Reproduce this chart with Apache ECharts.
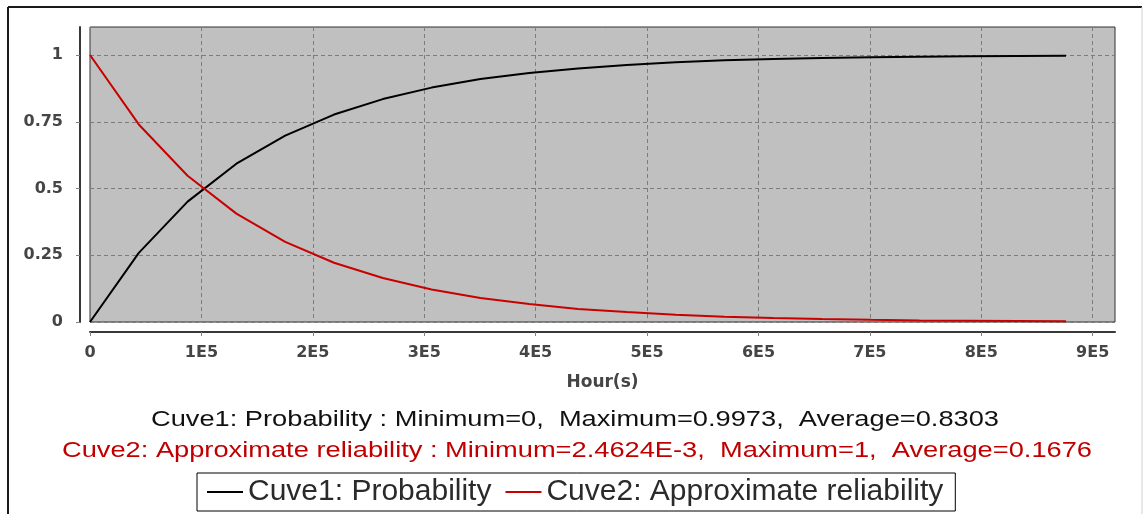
<!DOCTYPE html>
<html>
<head>
<meta charset="utf-8">
<title>Cuve1 / Cuve2</title>
<script src="https://cdn.jsdelivr.net/npm/echarts@6/dist/echarts.min.js"></script>
<style>
  html, body { margin: 0; padding: 0; background: #fff; }
  #chart { width: 1143px; height: 514px; }
</style>
</head>
<body>
<div id="chart"></div>
<script>
// Sample times (hours), one every 43 800 h (5 years) up to 100 years
const hours = [0, 43800, 87600, 131400, 175200, 219000, 262800, 306600, 350400, 394200,
  438000, 481800, 525600, 569400, 613200, 657000, 700800, 744600, 788400, 832200, 876000];

// Cuve1: Probability
const probability = [0, 0.259, 0.451, 0.593, 0.698, 0.777, 0.835, 0.878, 0.910, 0.933,
  0.950, 0.963, 0.973, 0.980, 0.985, 0.989, 0.992, 0.994, 0.9956, 0.9967, 0.9973];

// Cuve2: Approximate reliability
const reliability = [1, 0.740, 0.548, 0.406, 0.300, 0.222, 0.165, 0.122, 0.090, 0.067,
  0.049, 0.037, 0.027, 0.020, 0.015, 0.011, 0.0082, 0.0060, 0.0045, 0.0033, 0.0024624];

const seriesNames = ['Cuve1: Probability', 'Cuve2: Approximate reliability'];
const xTicks = [0, 100000, 200000, 300000, 400000, 500000, 600000, 700000, 800000, 900000];
const yTicks = [0, 0.25, 0.5, 0.75, 1];
const xAxisName = 'Hour(s)';
const summaryLines = [
  'Cuve1: Probability : Minimum=0,  Maximum=0.9973,  Average=0.8303',
  'Cuve2: Approximate reliability : Minimum=2.4624E-3,  Maximum=1,  Average=0.1676'
];

const RED = '#c80000';
const TEXT_FONT = '22px "Liberation Sans", Arial, sans-serif';

// Horizontal scale needed so that a text line spans a given width
const measureCtx = document.createElement('canvas').getContext('2d');
function fitScale(text, font, width) {
  measureCtx.font = font;
  return width / measureCtx.measureText(text).width;
}

function summaryText(text, cx, cy, width, color) {
  return {
    type: 'text',
    x: cx,
    y: cy,
    scaleX: fitScale(text, TEXT_FONT, width),
    silent: true,
    style: {
      text: text,
      font: TEXT_FONT,
      fill: color,
      align: 'center',
      verticalAlign: 'middle',
      textAlign: 'center',
      textVerticalAlign: 'middle'
    }
  };
}

const chart = echarts.init(document.getElementById('chart'), null, { renderer: 'canvas' });

const axisLabelStyle = {
  color: '#454545',
  fontFamily: '"DejaVu Sans", sans-serif',
  fontWeight: 'bold',
  fontSize: 16
};
const gridLine = { show: true, lineStyle: { color: '#7c7c7c', type: [4, 3], width: 1 } };

chart.setOption({
  animation: false,
  backgroundColor: '#ffffff',
  grid: {
    left: 90, right: 28, top: 27, bottom: 192,
    show: true,
    backgroundColor: '#c0c0c0',
    borderColor: '#303030',
    borderWidth: 1
  },
  xAxis: {
    type: 'value',
    min: 0,
    max: 920000,
    interval: 100000,
    offset: 10,
    name: xAxisName,
    nameLocation: 'middle',
    nameGap: 42,
    nameTextStyle: {
      color: '#454545',
      fontFamily: '"DejaVu Sans", sans-serif',
      fontWeight: 'bold',
      fontSize: 17
    },
    axisLine: { show: true, onZero: false, lineStyle: { color: '#383838', width: 2 } },
    axisTick: { show: true, length: 4, lineStyle: { color: '#808080' }, customValues: xTicks },
    axisLabel: Object.assign({
      margin: 13,
      customValues: xTicks,
      formatter: v => v === 0 ? '0' : (v / 100000) + 'E5'
    }, axisLabelStyle),
    splitLine: gridLine
  },
  yAxis: {
    type: 'value',
    min: 0,
    max: 1.105,
    interval: 0.25,
    offset: 10,
    axisLine: { show: true, onZero: false, lineStyle: { color: '#383838', width: 2 } },
    axisTick: { show: true, length: 4, lineStyle: { color: '#808080' }, customValues: yTicks },
    axisLabel: Object.assign({
      margin: 17,
      customValues: yTicks,
      formatter: v => String(v)
    }, axisLabelStyle),
    splitLine: gridLine
  },
  legend: {
    data: seriesNames,
    left: 197,
    top: 473,
    padding: [4, 12, 4, 10],
    itemGap: 14,
    itemWidth: 36,
    itemHeight: 2,
    icon: 'rect',
    borderColor: '#000',
    borderWidth: 1,
    backgroundColor: '#fff',
    textStyle: {
      color: '#2a2a2a',
      fontFamily: '"Liberation Sans", Arial, sans-serif',
      fontSize: 30
    }
  },
  series: [
    {
      name: seriesNames[0],
      type: 'line',
      data: hours.map((h, i) => [h, probability[i]]),
      showSymbol: false,
      lineStyle: { color: '#000', width: 2 },
      itemStyle: { color: '#000' }
    },
    {
      name: seriesNames[1],
      type: 'line',
      data: hours.map((h, i) => [h, reliability[i]]),
      showSymbol: false,
      lineStyle: { color: RED, width: 2 },
      itemStyle: { color: RED }
    }
  ],
  graphic: [
    // outer frame
    { type: 'line', silent: true, shape: { x1: 8, y1: 7, x2: 1142, y2: 7 }, style: { stroke: '#1a1a1a', lineWidth: 2 } },
    { type: 'line', silent: true, shape: { x1: 8, y1: 7, x2: 8, y2: 514 }, style: { stroke: '#1a1a1a', lineWidth: 2 } },
    { type: 'line', silent: true, shape: { x1: 1142, y1: 7, x2: 1142, y2: 514 }, style: { stroke: '#d0d0d0', lineWidth: 1 } },
    summaryText(summaryLines[0], 575, 420, 848, '#111111'),
    summaryText(summaryLines[1], 577, 451, 1030, '#c00000')
  ]
});
</script>
</body>
</html>
